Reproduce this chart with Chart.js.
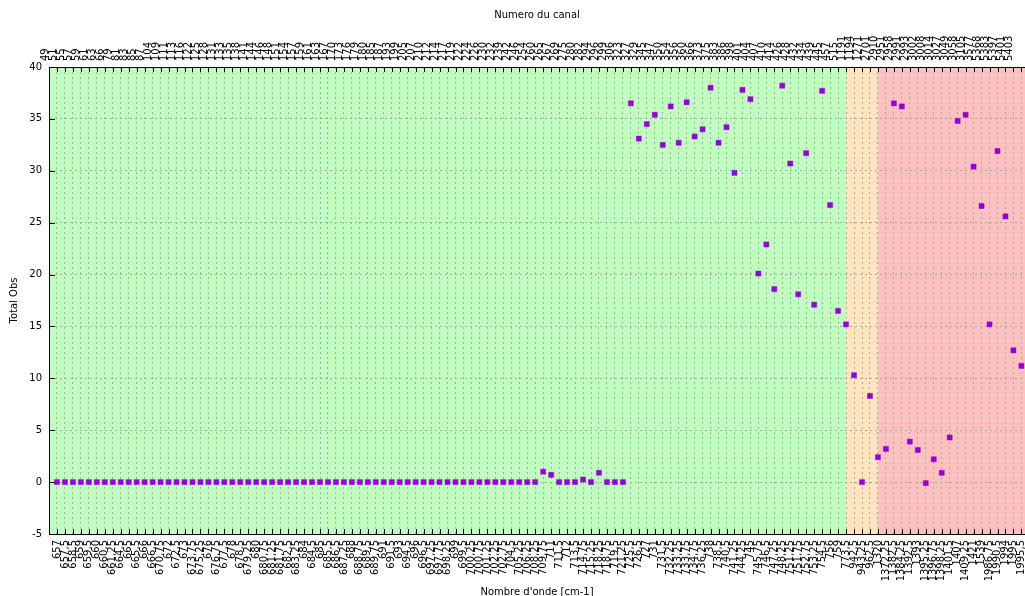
<!DOCTYPE html>
<html>
<head>
<meta charset="utf-8">
<title>Total Obs par canal</title>
<script src="https://cdn.jsdelivr.net/npm/chart.js@4.4.0/dist/chart.umd.min.js"></script>
<style>
  html, body { margin: 0; padding: 0; overflow: hidden; background: #fff; }
  #wrap { width: 1025px; height: 596px; }
</style>
</head>
<body>
<div id="wrap"><canvas id="obsChart" width="1025" height="596"></canvas></div>
<script>
// Numeros des canaux (axe du haut)
const channels = [
    49, 51, 55, 57, 59, 61, 63, 66, 79, 81, 83, 85, 87, 104, 109, 111, 113, 116,
    122, 125, 128, 131, 133, 135, 138, 141, 144, 146, 148, 151, 154, 157, 159, 161, 163, 167,
    170, 173, 176, 179, 180, 185, 187, 193, 199, 205, 207, 210, 212, 214, 217, 219,
    222, 224, 226, 230, 232, 239, 242, 246, 254, 260, 265, 267, 269, 275, 280, 282, 294, 296, 299, 306,
    323, 327, 329, 345, 347, 350, 354, 356, 360, 366, 373, 375, 383, 386,
    398, 401, 404, 407, 410, 414, 426, 428, 432, 434, 439, 445, 457, 515,
    1191, 1194, 1271, 2701, 2910, 2951, 2958, 2991, 2993, 3002, 3008,
    3014, 3027, 3049, 3058, 3105, 3577, 5368, 5383, 5397, 5401, 5403
];

// Nombres d'onde en cm-1 (axe du bas)
const wavenumbers = [
    657, 657.5, 658.5, 659, 659.5, 660, 660.5, 661.25, 664.5, 665, 665.5, 666, 666.5, 670.75, 672, 672.5, 673, 673.75,
    675.25, 676, 676.75, 677.5, 678, 678.5, 679.25, 680, 680.75, 681.25, 681.75, 682.5, 683.25, 684, 684.5, 685, 685.5, 686.5,
    687.25, 688, 688.75, 689.5, 689.75, 691, 691.5, 693, 694.5, 696, 696.5, 697.25, 697.75, 698.25, 699, 699.5,
    700.25, 700.75, 701.25, 702.25, 702.75, 704.5, 705.25, 706.25, 708.25, 709.75, 711, 711.5, 712, 713.5, 714.75, 715.25, 718.25, 718.75, 719.5, 721.25,
    725.5, 726.5, 727, 731, 731.5, 732.25, 733.25, 733.75, 734.75, 736.25, 738, 738.5, 740.5, 741.25,
    744.25, 745, 745.75, 746.5, 747.25, 748.25, 751.25, 751.75, 752.75, 753.25, 754.5, 756, 759, 773.5,
    942.5, 943.25, 962.5, 1320, 1372.25, 1382.5, 1384.25, 1392.5, 1393, 1395.25, 1396.75,
    1398.25, 1401.5, 1407, 1409.25, 1421, 1539, 1986.75, 1990.5, 1994, 1995, 1995.5
];

// Nombre total d'observations par canal
const totalObs = [
    0, 0, 0, 0, 0, 0, 0, 0, 0, 0, 0, 0, 0, 0, 0, 0, 0, 0,
    0, 0, 0, 0, 0, 0, 0, 0, 0, 0, 0, 0, 0, 0, 0, 0, 0, 0,
    0, 0, 0, 0, 0, 0, 0, 0, 0, 0, 0, 0, 0, 0, 0, 0,
    0, 0, 0, 0, 0, 0, 0, 0, 0, 1.0, 0.7, 0, 0, 0, 0.25, 0, 0.9, 0, 0, 0,
    36.5, 33.1, 34.5, 35.4, 32.5, 36.2, 32.7, 36.6, 33.3, 34.0, 38.0, 32.7, 34.2, 29.8,
    37.8, 36.9, 20.1, 22.9, 18.6, 38.2, 30.7, 18.1, 31.7, 17.1, 37.7, 26.7, 16.5, 15.2,
    10.3, 0, 8.3, 2.4, 3.2, 36.5, 36.2, 3.9, 3.1, -0.1, 2.2,
    0.9, 4.3, 34.8, 35.4, 30.4, 26.6, 15.2, 31.9, 25.6, 12.7, 11.2
];

const yTicks = [-5, 0, 5, 10, 15, 20, 25, 30, 35, 40];

// indices ou changent les zones de fond (vert / orange / rouge)
const bandEdges = [99, 103];
const bandColors = ['#c0ffc0', '#ffe4c0', '#ffc0c0'];

// le cadre s'arrete un peu apres le dernier canal (coupe a droite)
const xMin = -1;
const xMax = 121.45;

Chart.defaults.font.family = '"DejaVu Sans", sans-serif';
Chart.defaults.font.size = 10;
Chart.defaults.color = '#000';

const indexTicks = axis => {
    axis.ticks = channels.map((_, i) => ({ value: i }));
};

// hauteur fixe des axes horizontaux, sans marge laterale
const fixHeight = h => s => {
    s.height = h;
    s.paddingLeft = 0;
    s.paddingRight = 0;
};

// fond blanc + bandes colorees derriere la grille
const plotBands = {
    id: 'plotBands',
    beforeDraw(chart) {
        const { ctx, chartArea: a, scales: { x } } = chart;
        ctx.save();
        ctx.fillStyle = '#fff';
        ctx.fillRect(0, 0, chart.width, chart.height);
        const edges = [a.left, x.getPixelForValue(bandEdges[0]), x.getPixelForValue(bandEdges[1]), a.right];
        for (let i = 0; i < 3; i++) {
            ctx.fillStyle = bandColors[i];
            ctx.fillRect(edges[i], a.top, edges[i + 1] - edges[i], a.bottom - a.top);
        }
        ctx.restore();
    }
};

// petites graduations vers l'interieur du cadre
const innerTicks = {
    id: 'innerTicks',
    afterDatasetsDraw(chart) {
        const { ctx, chartArea: a, scales: { x, y } } = chart;
        ctx.save();
        ctx.strokeStyle = '#000';
        ctx.lineWidth = 1;
        ctx.beginPath();
        x.ticks.forEach(t => {
            const px = Math.round(x.getPixelForValue(t.value)) + 0.5;
            ctx.moveTo(px, a.bottom);
            ctx.lineTo(px, a.bottom - 5);
            ctx.moveTo(px, a.top);
            ctx.lineTo(px, a.top + 5);
        });
        y.ticks.forEach(t => {
            const py = Math.round(y.getPixelForValue(t.value)) + 0.5;
            ctx.moveTo(a.left, py);
            ctx.lineTo(a.left + 6, py);
        });
        ctx.stroke();
        ctx.restore();
    }
};

const fmt = v => String(v).replace('.', ',');

const ctx = document.getElementById('obsChart').getContext('2d');
const obsChart = new Chart(ctx, {
    type: 'scatter',
    data: {
        datasets: [{
            label: 'Total Obs',
            data: totalObs.map((v, i) => ({ x: i, y: v })),
            pointStyle: 'rect',
            pointRadius: 3.6,
            backgroundColor: '#9400d3',
            borderColor: 'rgba(148, 0, 211, 0.45)',
            borderWidth: 1
        }]
    },
    options: {
        responsive: false,
        animation: false,
        devicePixelRatio: 1,
        layout: { padding: 0, autoPadding: false },
        plugins: {
            legend: { display: false },
            tooltip: { enabled: false }
        },
        scales: {
            x: {
                type: 'linear',
                position: 'bottom',
                min: xMin,
                max: xMax,
                afterBuildTicks: indexTicks,
                afterFit: fixHeight(62),
                ticks: {
                    autoSkip: false,
                    minRotation: 90,
                    maxRotation: 90,
                    padding: 6,
                    callback: (v, i) => fmt(wavenumbers[i])
                },
                grid: { color: '#a8a8a8', drawTicks: false },
                border: { display: true, color: '#000', width: 1, dash: [2, 3] },
                title: {
                    display: true,
                    text: "Nombre d'onde [cm-1]",
                    padding: { top: 0, bottom: -2 }
                }
            },
            x2: {
                type: 'linear',
                position: 'top',
                min: xMin,
                max: xMax,
                afterBuildTicks: indexTicks,
                afterFit: fixHeight(67),
                ticks: {
                    autoSkip: false,
                    minRotation: 90,
                    maxRotation: 90,
                    padding: 6,
                    callback: (v, i) => String(channels[i])
                },
                grid: { drawOnChartArea: false, drawTicks: false },
                border: { display: true, color: '#000', width: 1 },
                title: {
                    display: true,
                    text: 'Numero du canal',
                    padding: { top: 9, bottom: 0 }
                }
            },
            y: {
                min: -5,
                max: 40,
                afterBuildTicks: axis => { axis.ticks = yTicks.map(v => ({ value: v })); },
                afterFit: s => {
                    s.width = 49;
                    s.paddingTop = 0;
                    s.paddingBottom = 0;
                },
                ticks: { padding: 7 },
                grid: { color: '#a8a8a8', drawTicks: false },
                border: { display: true, color: '#000', width: 1, dash: [2, 3] },
                title: {
                    display: true,
                    text: 'Total Obs',
                    padding: { top: 8, bottom: 0 }
                }
            }
        }
    },
    plugins: [plotBands, innerTicks]
});
</script>
</body>
</html>
